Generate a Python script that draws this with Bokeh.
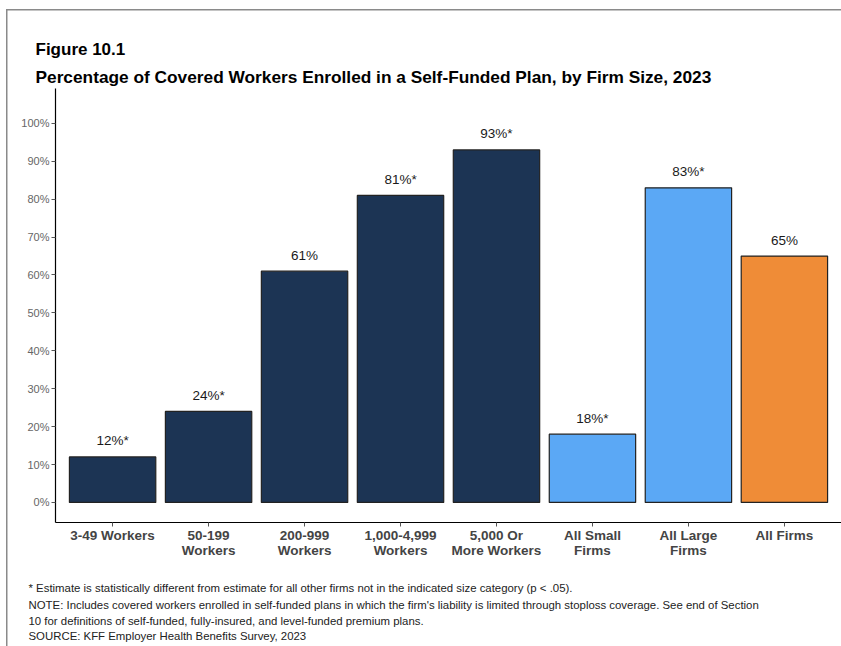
from bokeh.plotting import figure
from bokeh.models import ColumnDataSource, FactorRange, Range1d, Title, FixedTicker, CustomJSTickFormatter
from bokeh.core.properties import value
from bokeh.embed import file_html
from bokeh.resources import INLINE

categories = ["3-49 Workers", "50-199\nWorkers", "200-999\nWorkers", "1,000-4,999\nWorkers",
              "5,000 Or\nMore Workers", "All Small\nFirms", "All Large\nFirms", "All Firms"]
values = [12, 24, 61, 81, 93, 18, 83, 65]
significant = [True, True, False, True, True, True, True, False]
groups = ["size", "size", "size", "size", "size", "aggregate", "aggregate", "all"]
y_ticks = [0, 10, 20, 30, 40, 50, 60, 70, 80, 90, 100]

title_text = "Figure 10.1"
subtitle_text = "Percentage of Covered Workers Enrolled in a Self-Funded Plan, by Firm Size, 2023"
notes = [
    "* Estimate is statistically different from estimate for all other firms not in the indicated size category (p < .05).",
    "NOTE: Includes covered workers enrolled in self-funded plans in which the firm's liability is limited through stoploss coverage. See end of Section",
    "10 for definitions of self-funded, fully-insured, and level-funded premium plans.",
    "SOURCE: KFF Employer Health Benefits Survey, 2023",
]

group_colors = {"size": "#1c3454", "aggregate": "#5ba8f5", "all": "#ef8c37"}
colors = [group_colors[g] for g in groups]
labels = [f"{v}%" + ("*" if s else "") for v, s in zip(values, significant)]

source = ColumnDataSource(dict(cat=categories, val=values, color=colors, lab=labels))

FONT = "Liberation Sans"

p = figure(width=841, height=646, output_backend="svg", toolbar_location=None,
           x_range=FactorRange(*categories, range_padding=0.095, range_padding_units="absolute"),
           y_range=Range1d(-5.3, 109.2),
           min_border_left=55, min_border_right=0, min_border_top=88, min_border_bottom=124)
p.title = None
p.outline_line_color = None
p.background_fill_color = "white"
p.border_fill_color = None
p.styles = {"background": "linear-gradient(#8a8a8a,#8a8a8a) 7px 9px / 834px 1.5px no-repeat, "
                          "linear-gradient(#8a8a8a,#8a8a8a) 6px 9px / 1.5px 637px no-repeat, white"}
p.xgrid.grid_line_color = None
p.ygrid.grid_line_color = None

p.vbar(x="cat", top="val", bottom=0, width=0.9, fill_color="color", line_color="#222222",
       line_width=1.2, source=source)
p.text(x="cat", y="val", text="lab", source=source, text_align="center", text_baseline="middle",
       y_offset=-16, text_font_size="13.5px", text_color="#1a1a1a", text_font=value(FONT))

yax = p.yaxis[0]
yax.ticker = FixedTicker(ticks=y_ticks)
yax.formatter = CustomJSTickFormatter(code="return tick + '%';")
yax.axis_line_color = "black"
yax.axis_line_width = 1.2
yax.major_tick_line_color = "#555555"
yax.major_tick_in = 0
yax.major_tick_out = 4
yax.minor_tick_line_color = None
yax.major_label_text_font_size = "11px"
yax.major_label_text_color = "#666666"
yax.major_label_text_font = FONT
yax.major_label_standoff = 2

xax = p.xaxis[0]
xax.axis_line_color = "black"
xax.axis_line_width = 1.2
xax.major_tick_line_color = "#555555"
xax.major_tick_in = 0
xax.major_tick_out = 4
xax.major_label_text_font_size = "13.5px"
xax.major_label_text_font_style = "bold"
xax.major_label_text_color = "#444444"
xax.major_label_text_font = FONT
xax.major_label_standoff = 1
xax.major_label_text_line_height = 1.05

p.add_layout(Title(text=subtitle_text, align="left", offset=-20, standoff=4,
                   text_font=FONT, text_font_size="17.3px", text_font_style="bold",
                   text_color="black"), "above")
p.add_layout(Title(text=title_text, align="left", offset=-20, standoff=7,
                   text_font=FONT, text_font_size="17px", text_font_style="bold",
                   text_color="black"), "above")

# small spacer between the axis labels and the notes
p.add_layout(Title(text=" ", align="left", standoff=12, text_font=FONT, text_font_size="2px"), "below")

note_standoffs = [3.5, 1.5, 1.5, 0]
for line, so in zip(notes, note_standoffs):
    p.add_layout(Title(text=line, align="left", offset=-27, standoff=so,
                       text_font=FONT, text_font_size="11.4px", text_font_style="normal",
                       text_color="#222222"), "below")

open("out.html", "w").write(file_html(p, INLINE))
